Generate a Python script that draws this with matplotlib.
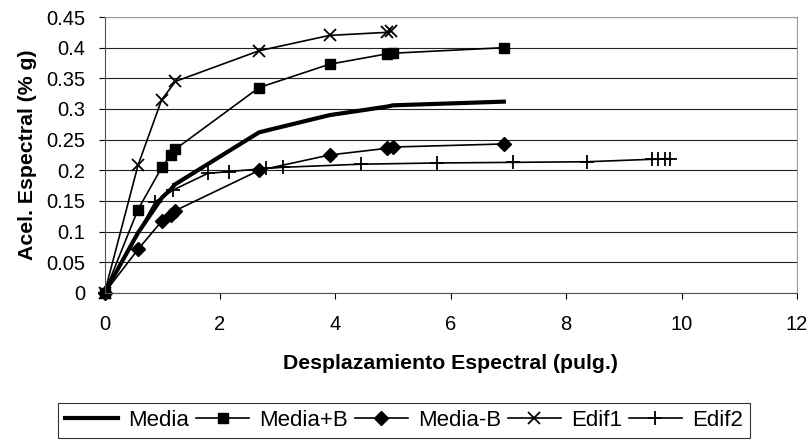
import matplotlib.pyplot as plt

plt.rcParams['font.family'] = ['Liberation Sans', 'DejaVu Sans']

# Datos
media_x = [0, 0.58, 1.0, 1.15, 1.22, 2.68, 3.9, 4.9, 5.0, 6.92]
media_y = [0, 0.098, 0.156, 0.169, 0.177, 0.262, 0.290, 0.304, 0.306, 0.312]

mas_x = [0, 0.58, 1.0, 1.15, 1.22, 2.68, 3.9, 4.9, 5.0, 6.92]
mas_y = [0, 0.136, 0.206, 0.225, 0.234, 0.335, 0.373, 0.390, 0.391, 0.400]

menos_x = [0, 0.58, 1.0, 1.15, 1.22, 2.68, 3.9, 4.9, 5.0, 6.92]
menos_y = [0, 0.071, 0.118, 0.127, 0.134, 0.200, 0.225, 0.236, 0.238, 0.243]

edif1_x = [0, 0.58, 0.99, 1.23, 2.68, 3.9, 4.9, 4.97]
edif1_y = [0, 0.208, 0.315, 0.345, 0.395, 0.420, 0.425, 0.427]

edif2_x = [0, 0.88, 1.19, 1.79, 2.15, 2.79, 3.1, 4.44, 5.77, 7.08, 8.36, 9.48, 9.6, 9.72, 9.8]
edif2_y = [0, 0.149, 0.168, 0.195, 0.198, 0.203, 0.205, 0.210, 0.212, 0.213, 0.214, 0.218, 0.218, 0.219, 0.219]

fig = plt.figure(figsize=(8.09, 4.4), dpi=100)
ax = fig.add_axes([104.5 / 809, 1 - 293 / 440, (797 - 104.5) / 809, (293 - 17) / 440])

ax.plot(media_x, media_y, color='black', linewidth=3, label='Media', clip_on=False)
ax.plot(edif2_x, edif2_y, color='black', linewidth=1.2, marker='+', markersize=10,
        markeredgewidth=1.3, label='Edif2', clip_on=False)
ax.plot(edif1_x, edif1_y, color='black', linewidth=1.2, marker='x', markersize=9,
        markeredgewidth=1.3, label='Edif1', clip_on=False)
ax.plot(menos_x, menos_y, color='black', linewidth=1.2, marker='D', markersize=7,
        label='Media-B', clip_on=False)
ax.plot(mas_x, mas_y, color='black', linewidth=1.2, marker='s', markersize=7.5,
        label='Media+B', clip_on=False)

ax.set_xlim(0, 12)
ax.set_ylim(0, 0.45)
ax.set_xticks(range(0, 13, 2))
ax.set_yticks([i * 0.05 for i in range(10)])
ax.set_yticklabels(['0', '0.05', '0.1', '0.15', '0.2', '0.25', '0.3', '0.35', '0.4', '0.45'])

ax.yaxis.grid(True, color='#222222', linewidth=0.8)
ax.set_axisbelow(True)
ax.spines['top'].set_color('#999999')
ax.spines['right'].set_color('#999999')
ax.spines['left'].set_color('#555555')
ax.spines['bottom'].set_color('#555555')
ax.tick_params(direction='out', length=4, labelsize=14.5, colors='black')
ax.tick_params(axis='x', pad=12)
ax.tick_params(axis='y', pad=10)

ax.set_xlabel('Desplazamiento Espectral (pulg.)', fontsize=15.3, fontweight='bold', labelpad=14)
ax.set_ylabel('Acel. Espectral (% g)', fontsize=15.3, fontweight='bold', labelpad=6.4)

# legend in the original series order
handles, labels = ax.get_legend_handles_labels()
order = ['Media', 'Media+B', 'Media-B', 'Edif1', 'Edif2']
handles = [handles[labels.index(name)] for name in order]

leg = fig.legend(handles, order, loc='center', bbox_to_anchor=(404 / 809, 1 - 420.5 / 440), ncol=5,
                 fontsize=16, frameon=True, fancybox=False, edgecolor='black',
                 handlelength=2.4, handletextpad=0.45, columnspacing=0.3,
                 borderpad=0.3, borderaxespad=0)
leg.get_frame().set_linewidth(0.8)

fig.savefig('out.png', dpi=100)
